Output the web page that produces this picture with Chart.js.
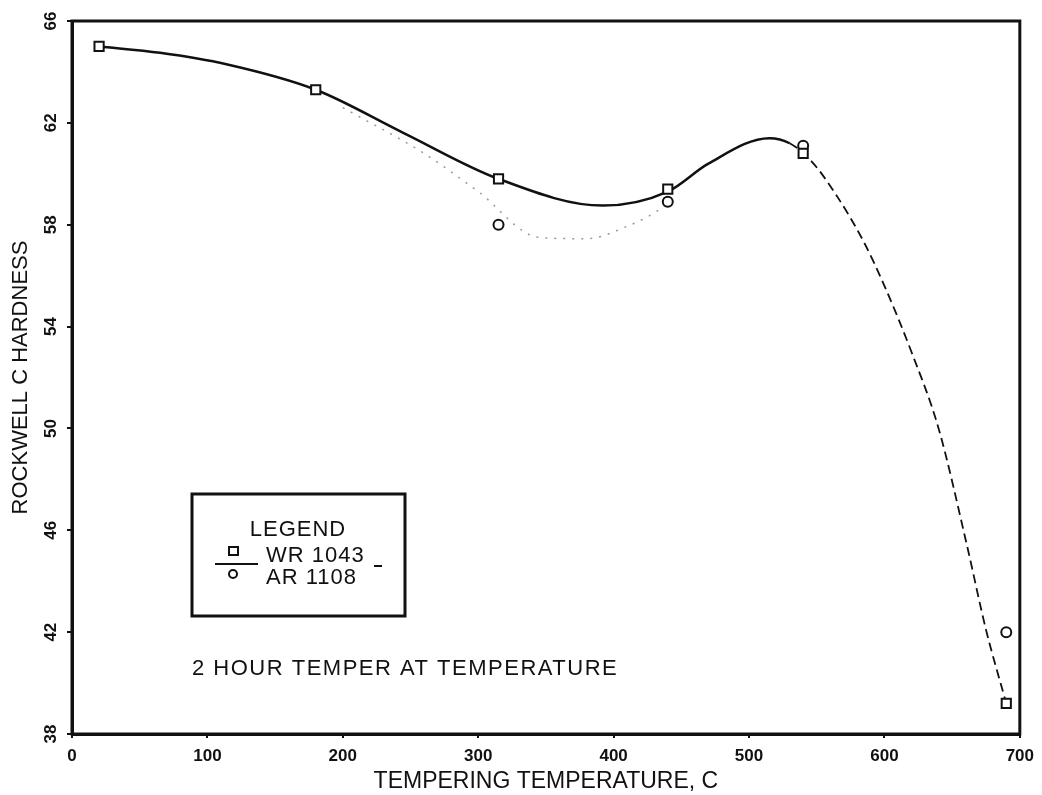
<!DOCTYPE html>
<html>
<head>
<meta charset="utf-8">
<script src="https://cdn.jsdelivr.net/npm/chart.js@4"></script>
<style>
  body { margin: 0; background: #fff; }
  #wrap { width: 1042px; height: 795px; }
</style>
</head>
<body>
<div id="wrap"><canvas id="hardChart"></canvas></div>
<script>
// measured points (tempering temperature, C)
const tempC = [20, 180, 315, 440, 540, 690];
const wr1043 = [65.0, 63.3, 59.8, 59.4, 60.8, 39.2];
const ar1108 = [null, null, 58.0, 58.9, 61.1, 42.0];

// hand drawn fit curve for WR 1043
const curveTemp = [20, 65, 114, 180, 245, 315, 392, 440, 470, 515, 530, 546, 564, 585, 600, 620, 640, 661, 675, 690];
const curveWR = [65.0, 64.75, 64.3, 63.3, 61.6, 59.8, 58.75, 59.3, 60.4, 61.4, 61.2, 60.5, 59.2, 57.3, 55.6, 53.0, 50.0, 45.4, 42.1, 39.2];

// faint dotted curve for AR 1108
const arCurveTemp = [200, 260, 300, 345, 380, 411, 428, 445];
const arCurve = [62.6, 60.8, 59.3, 57.5, 57.45, 57.96, 58.4, 59.0];

const xTicks = [0, 100, 200, 300, 400, 500, 600, 700];
const yTicks = [38, 42, 46, 50, 54, 58, 62, 66];

const ink = '#111';
const font = "'Liberation Sans', Arial, sans-serif";

function pairs(xs, ys) {
    return xs.map(function (x, i) { return {x: x, y: ys[i]}; });
}

// box around the plot, the boxed legend and the note
const paperBits = {
    id: 'paperBits',
    afterDraw(chart) {
        const ctx = chart.ctx;
        const a = chart.chartArea;
        ctx.save();
        ctx.strokeStyle = ink;
        ctx.fillStyle = ink;
        ctx.lineWidth = 3;
        ctx.strokeRect(a.left, a.top, a.right - a.left, a.bottom - a.top);

        // legend box
        ctx.strokeRect(192, 494, 213, 122);
        ctx.font = '22px ' + font;
        ctx.letterSpacing = '1px';
        ctx.textBaseline = 'middle';
        ctx.textAlign = 'center';
        ctx.fillText('LEGEND', 298, 530);
        ctx.textAlign = 'left';
        const ds = chart.data.datasets;
        ctx.fillText(ds[0].label, 266, 556);
        ctx.fillText(ds[1].label, 266, 578);
        ctx.lineWidth = 2;
        ctx.strokeRect(229, 547, 9, 8);
        ctx.beginPath();
        ctx.arc(233, 574, 4, 0, Math.PI * 2);
        ctx.stroke();
        ctx.beginPath();
        ctx.moveTo(215, 564); ctx.lineTo(258, 564);
        ctx.moveTo(374, 566); ctx.lineTo(382, 566);
        ctx.stroke();

        ctx.letterSpacing = '1.5px';
        ctx.fillText('2 HOUR TEMPER AT TEMPERATURE', 192, 669);
        ctx.restore();
    }
};

new Chart(document.getElementById('hardChart'), {
    type: 'scatter',
    data: {
        datasets: [{
            label: 'WR 1043',
            data: pairs(tempC, wr1043),
            pointStyle: 'rect',
            pointRadius: 6.5,
            pointBorderWidth: 2,
            borderColor: ink,
            backgroundColor: '#fff',
            showLine: false
        }, {
            label: 'AR 1108',
            data: pairs(tempC, ar1108),
            pointStyle: 'circle',
            pointRadius: 5,
            pointBorderWidth: 2,
            borderColor: ink,
            backgroundColor: '#fff',
            showLine: false
        }, {
            label: 'WR fit',
            data: pairs(curveTemp, curveWR),
            showLine: true,
            pointRadius: 0,
            borderColor: ink,
            borderWidth: 2.5,
            cubicInterpolationMode: 'monotone',
            segment: {
                borderDash: function (c) { return c.p0.parsed.x >= 530 ? [9, 5] : undefined; },
                borderWidth: function (c) { return c.p0.parsed.x >= 530 ? 1.8 : undefined; }
            }
        }, {
            label: 'AR fit',
            data: pairs(arCurveTemp, arCurve),
            showLine: true,
            pointRadius: 0,
            borderColor: '#999',
            borderWidth: 1.5,
            borderDash: [2, 7],
            cubicInterpolationMode: 'monotone'
        }]
    },
    options: {
        responsive: true,
        maintainAspectRatio: false,
        animation: false,
        layout: {padding: {top: 21, right: 21, left: 0, bottom: 0}},
        plugins: {
            legend: {display: false},
            tooltip: {enabled: false}
        },
        scales: {
            x: {
                type: 'linear',
                min: 0,
                max: 700,
                afterBuildTicks: function (s) { s.ticks = xTicks.map(function (v) { return {value: v}; }); },
                afterFit: function (s) { s.height = 61; },
                border: {color: ink, width: 3},
                grid: {drawOnChartArea: false, tickLength: 4, color: ink, lineWidth: 2},
                ticks: {color: ink, font: {family: font, size: 17, weight: 'bold'}, padding: 8, maxRotation: 0},
                title: {display: true, text: 'TEMPERING TEMPERATURE, C', color: ink,
                    font: {family: font, size: 23}, padding: {top: 0, bottom: 0}}
            },
            y: {
                min: 38,
                max: 66,
                afterBuildTicks: function (s) { s.ticks = yTicks.map(function (v) { return {value: v}; }); },
                afterFit: function (s) { s.width = 72; },
                border: {color: ink, width: 3},
                grid: {drawOnChartArea: false, tickLength: 5, color: ink, lineWidth: 2},
                ticks: {color: ink, font: {family: font, size: 17, weight: 'bold'}, padding: 6,
                    minRotation: 90, maxRotation: 90, crossAlign: 'center'},
                title: {display: true, text: 'ROCKWELL C HARDNESS', color: ink,
                    font: {family: font, size: 22}, padding: {top: 8, bottom: 0}}
            }
        }
    },
    plugins: [paperBits]
});
</script>
</body>
</html>
